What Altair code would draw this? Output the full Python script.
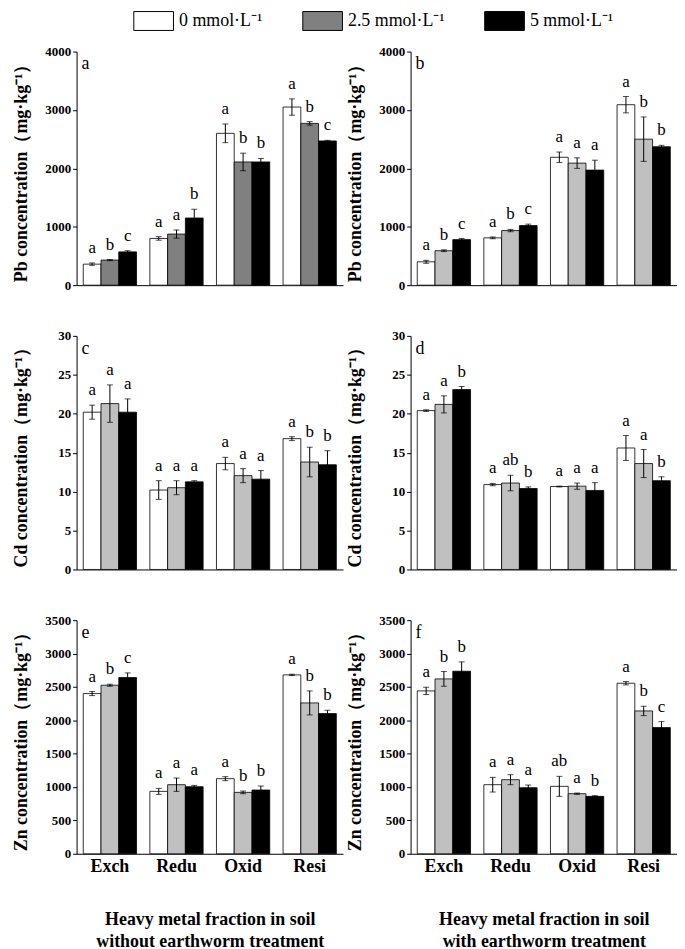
import altair as alt
import pandas as pd

FONT = "Liberation Serif"
W, H = 268, 235

fractions = ["Exch", "Redu", "Oxid", "Resi"]
treatments = ["0 mmol·L⁻¹", "2.5 mmol·L⁻¹", "5 mmol·L⁻¹"]

# Pb, without earthworm (a)
pb_no_mean = [360, 430, 570, 800, 875, 1150, 2600, 2110, 2110, 3050, 2770, 2470]
pb_no_err = [20, 10, 20, 30, 70, 150, 160, 150, 60, 140, 30, 10]
pb_no_let = ["a", "b", "c", "a", "a", "b", "a", "b", "b", "a", "b", "c"]
# Pb, with earthworm (b)
pb_ew_mean = [400, 590, 780, 810, 935, 1020, 2190, 2090, 1970, 3090, 2500, 2370]
pb_ew_err = [25, 15, 20, 15, 20, 25, 90, 90, 170, 140, 380, 25]
pb_ew_let = ["a", "b", "c", "a", "b", "c", "a", "a", "a", "a", "b", "b"]
# Cd, without earthworm (c)
cd_no_mean = [20.2, 21.3, 20.2, 10.2, 10.5, 11.25, 13.6, 12.05, 11.6, 16.8, 13.8, 13.45]
cd_no_err = [0.9, 2.4, 1.7, 1.2, 0.9, 0.15, 0.8, 0.9, 1.1, 0.25, 1.9, 1.8]
cd_no_let = ["a", "a", "a", "a", "a", "a", "a", "a", "a", "a", "b", "b"]
# Cd, with earthworm (d)
cd_ew_mean = [20.4, 21.2, 23.1, 10.9, 11.1, 10.4, 10.65, 10.7, 10.15, 15.6, 13.6, 11.4]
cd_ew_err = [0.1, 1.1, 0.4, 0.15, 1.0, 0.2, 0.05, 0.4, 1.0, 1.6, 1.8, 0.5]
cd_ew_let = ["a", "a", "b", "a", "ab", "b", "a", "a", "a", "a", "a", "b"]
# Zn, without earthworm (e)
zn_no_mean = [2400, 2525, 2640, 935, 1035, 1005, 1125, 920, 955, 2680, 2260, 2100]
zn_no_err = [30, 15, 70, 45, 100, 20, 30, 20, 60, 10, 180, 50]
zn_no_let = ["a", "b", "c", "a", "a", "a", "a", "b", "b", "a", "b", "b"]
# Zn, with earthworm (f)
zn_ew_mean = [2440, 2620, 2735, 1035, 1110, 990, 1010, 900, 860, 2555, 2140, 1890]
zn_ew_err = [55, 110, 140, 110, 75, 40, 150, 10, 10, 25, 70, 90]
zn_ew_let = ["a", "b", "b", "a", "a", "a", "ab", "a", "b", "a", "b", "c"]

xtitle_left = ["Heavy metal fraction in soil", "without earthworm treatment"]
xtitle_right = ["Heavy metal fraction in soil", "with earthworm treatment"]


def make_df(mean, err, lets):
    rows = []
    for i, f in enumerate(fractions):
        for j, t in enumerate(treatments):
            k = i * 3 + j
            rows.append(dict(fraction=f, treatment=t, mean=mean[k],
                             lo=mean[k] - err[k], hi=mean[k] + err[k], letter=lets[k]))
    return pd.DataFrame(rows)


def panel(mean, err, lets, gray, ytitle, ymax, ystep, tag, xtitle=None, legend=None):
    df = make_df(mean, err, lets)
    if xtitle is not None:
        xaxis = alt.Axis(title=xtitle, labelFontSize=18, labelPadding=4, ticks=False,
                         titlePadding=35, titleLineHeight=22, labelAngle=0)
    else:
        xaxis = alt.Axis(labels=False, ticks=False, title=None)
    x = alt.X("fraction:N", sort=fractions,
              scale=alt.Scale(paddingInner=0.2, paddingOuter=0.1), axis=xaxis)
    xo = alt.XOffset("treatment:N", sort=treatments,
                     scale=alt.Scale(paddingInner=0, paddingOuter=0))
    yscale = alt.Scale(domain=[0, ymax], nice=False, zero=True)
    yaxis = alt.Axis(values=list(range(0, ymax + 1, ystep)), title=ytitle, format="d",
                     titleX=-46, titleY=H / 2, titleAngle=270, titleAlign="center",
                     titleBaseline="bottom", tickSize=4, labelPadding=2)

    def Y(field):
        return alt.Y(field, scale=yscale, axis=yaxis, title=ytitle)

    base = alt.Chart(df)
    fill_args = dict(sort=treatments,
                     scale=alt.Scale(domain=treatments, range=["white", gray, "black"]))
    if legend is not None:
        fill = alt.Fill("treatment:N", legend=legend, **fill_args)
    else:
        fill = alt.Fill("treatment:N", legend=None, **fill_args)
    bars = base.mark_bar(stroke="black", strokeWidth=0.8).encode(
        x=x, xOffset=xo, y=Y("mean:Q"), fill=fill)
    rule = base.mark_rule(color="black", strokeWidth=1).encode(
        x=x, xOffset=xo, y=Y("lo:Q"), y2=alt.Y2("hi:Q"))
    cap_lo = base.mark_tick(orient="horizontal", size=6, thickness=1, color="black").encode(
        x=x, xOffset=xo, y=Y("lo:Q"))
    cap_hi = base.mark_tick(orient="horizontal", size=6, thickness=1, color="black").encode(
        x=x, xOffset=xo, y=Y("hi:Q"))
    txt = base.mark_text(dy=-10, fontSize=17, font=FONT, baseline="alphabetic",
                         color="black").encode(
        x=x, xOffset=xo, y=Y("hi:Q"), text="letter:N")
    lab = alt.Chart(pd.DataFrame({"t": [tag]})).mark_text(
        fontSize=18, font=FONT, baseline="alphabetic", align="left", color="black"
    ).encode(x=alt.value(5), y=alt.value(18), text="t:N")
    return alt.layer(bars, rule, cap_lo, cap_hi, txt, lab).properties(width=W, height=H)


# swatch: 40 x 19 px drawn from a 19 px "symbol" so legend rows stay compact
legend = alt.Legend(orient="none", legendX=67.5, legendY=-41, direction="horizontal",
                    title=None, symbolType="M-2.1,-1H2.1V1H-2.1Z", symbolSize=361,
                    symbolStrokeColor="black", symbolStrokeWidth=1, labelFont=FONT,
                    labelFontSize=18, labelFontWeight="normal", labelOffset=15.5,
                    columnPadding=38, labelColor="black", labelLimit=300)

pb_title = "Pb concentration（mg·kg⁻¹）"
cd_title = "Cd concentration（mg·kg⁻¹）"
zn_title = "Zn concentration（mg·kg⁻¹）"

pa = panel(pb_no_mean, pb_no_err, pb_no_let, "#808080", pb_title, 4000, 1000, "a", legend=legend)
pbp = panel(pb_ew_mean, pb_ew_err, pb_ew_let, "#c0c0c0", pb_title, 4000, 1000, "b")
pc = panel(cd_no_mean, cd_no_err, cd_no_let, "#c0c0c0", cd_title, 30, 5, "c")
pd_ = panel(cd_ew_mean, cd_ew_err, cd_ew_let, "#c0c0c0", cd_title, 30, 5, "d")
pe = panel(zn_no_mean, zn_no_err, zn_no_let, "#c0c0c0", zn_title, 3500, 500, "e", xtitle=xtitle_left)
pf = panel(zn_ew_mean, zn_ew_err, zn_ew_let, "#c0c0c0", zn_title, 3500, 500, "f", xtitle=xtitle_right)

chart = alt.concat(
    pa, pbp, pc, pd_, pe, pf, columns=2,
    spacing={"row": 51, "column": 68}, bounds="flush"
).resolve_scale(fill="independent").properties(
    padding={"left": 4, "top": 0, "right": 0, "bottom": 0}
).configure_view(stroke=None).configure_axis(
    labelFont=FONT, labelFontWeight="bold", labelFontSize=13, labelColor="black",
    titleFont=FONT, titleFontSize=18, titleFontWeight="bold", titleColor="black",
    domainColor="black", tickColor="black", grid=False
)

chart.save("out.html", embed_options={"renderer": "svg", "actions": False})
